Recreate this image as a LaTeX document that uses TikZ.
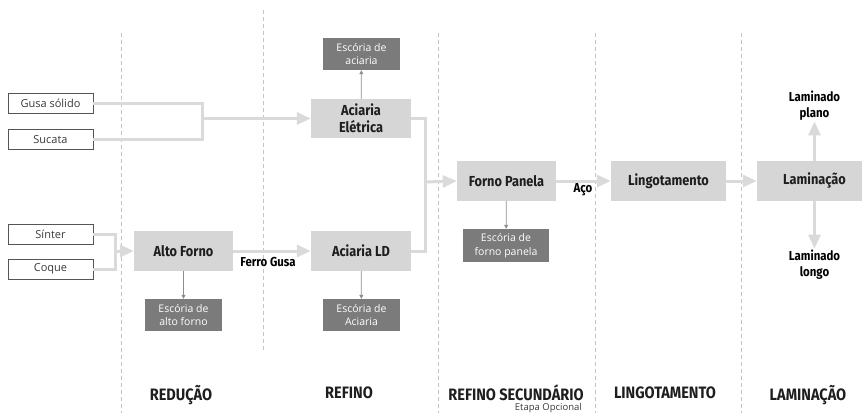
\documentclass[tikz,border=0pt]{standalone}
\usepackage{fontspec}
\setmainfont{Open Sans}
\newfontfamily\headfont[FakeStretch = 0.88]{Fira Sans}
\usetikzlibrary{arrows.meta}

\begin{document}
\begin{tikzpicture}[x = 1pt, y = -1pt,
inbox/.style = {draw = boxline, fill = white, line width = 0.8pt, minimum width = 85, minimum height = 20, inner sep = 0, text = inkgray, font = \fontsize{11}{13}\selectfont},
stage/.style = {fill = stagefill, minimum height = 40, inner sep = 0, align = center, text = inkdark, font = \headfont\bfseries\fontsize{14.5}{17}\selectfont},
slag/.style = {fill = slagfill, minimum width = 77, minimum height = 32, inner sep = 0, align = center, text = white, font = \fontsize{10.5}{13.5}\selectfont},
tag/.style = {inner sep = 1pt, align = center, text = black, font = \headfont\bfseries\fontsize{13}{16}\selectfont},
phase/.style = {inner sep = 0, text depth = 0pt, text = inkdark, font = \headfont\bfseries\fontsize{16.5}{18}\selectfont},
flow/.style = {draw = flowline, line width = 3pt, -{Triangle[length = 14pt, width = 12pt]}},
bracket/.style = {draw = flowline, line width = 3pt},
slagarrow/.style = {draw = thinline, line width = 0.8pt, -{Triangle[length = 4pt, width = 4pt]}},
divider/.style = {draw = dashgray, line width = 0.7pt, dash pattern = on 4pt off 3pt}]
\definecolor{boxline}{HTML}{555555}
\definecolor{inkgray}{HTML}{3A3A3A}
\definecolor{inkdark}{HTML}{1E1E1E}
\definecolor{stagefill}{HTML}{D6D6D6}
\definecolor{slagfill}{HTML}{7B7B7B}
\definecolor{flowline}{HTML}{DADADA}
\definecolor{thinline}{HTML}{8E8E8E}
\definecolor{dashgray}{HTML}{C4C4C4}
\clip (0,0) rectangle (862,413);
\foreach \x/\top/\bot in {121/33/413, 263/10/350, 438/33/413, 595/33/413, 741/33/413} \draw [divider] (\x,\top) -- (\x,\bot);
\node [inbox] (gusa) at (50.5,103) {Gusa sólido};
\node [inbox] (sucata) at (50.5,139.5) {Sucata};
\node [inbox] (sinter) at (50.5,234) {Sínter};
\node [inbox] (coque) at (50.5,269) {Coque};
\node [stage, minimum width = 99] (altoforno) at (183.5,251) {Alto Forno};
\node [slag] (escaf) at (183.5,315) {Escória de\\alto forno};
\node [stage, minimum width = 100] (aciariald) at (361,251) {Aciaria LD};
\node [slag] (escld) at (361.5,315) {Escória de\\Aciaria};
\node [stage, minimum width = 100, minimum height = 39] (aciariael) at (361,118.5) {Aciaria\\Elétrica};
\node [slag] (escel) at (361.5,54) {Escória de\\aciaria};
\node [stage, minimum width = 99] (fornopanela) at (506.5,181) {Forno Panela};
\node [slag, minimum width = 86, minimum height = 33] (escfp) at (506,245.5) {Escória de\\forno panela};
\node [stage, minimum width = 115] (lingot) at (668.5,181) {Lingotamento};
\node [stage, minimum width = 115] (lamin) at (814.5,181) {Laminação};
\node [tag] (plano) at (814.5,105.5) {Laminado\\plano};
\node [tag] (longo) at (814.5,264.5) {Laminado\\longo};
\node [tag] (ferro) at (268,262) {Ferro Gusa};
\node [tag] (aco) at (583,190) {Aço};
\coordinate (jin) at (202,118.5);
\coordinate (jore) at (115,251);
\coordinate (jaco) at (425,182);
\draw [bracket] (gusa.east) -| (jin) |- (sucata.east);
\draw [flow] (jin) -- (aciariael.west);
\draw [bracket] (sinter.east) -| (jore) |- (coque.east);
\draw [flow] (jore) -- (altoforno.west);
\draw [flow] (altoforno) -- (aciariald);
\draw [bracket] (aciariael.east) -| (jaco) |- (aciariald.east);
\draw [flow] (jaco) -- (fornopanela.west);
\draw [flow] (fornopanela) -- (lingot);
\draw [flow] (lingot) -- (lamin);
\draw [flow] (lamin) -- (plano);
\draw [flow] (lamin) -- (longo);
\draw [slagarrow] (altoforno) -- (escaf);
\draw [slagarrow] (aciariald) -- (escld);
\draw [slagarrow] (aciariael) -- (escel);
\draw [slagarrow] (fornopanela) -- (escfp);
\node [phase] (reducao) at (181,393) {REDUÇÃO};
\node [phase] (refino) at (349,393) {REFINO};
\node [phase] (secundario) at (516,393) {REFINO SECUNDÁRIO};
\node [phase] (lingotamento) at (665,393) {LINGOTAMENTO};
\node [phase] (laminacao) at (808,393) {LAMINAÇÃO};
\node [anchor = east, inner sep = 0, text = inkgray, font = \fontsize{9.5}{11}\selectfont] (opcional) at (582,408.5) {Etapa Opcional};
\end{tikzpicture}
\end{document}
